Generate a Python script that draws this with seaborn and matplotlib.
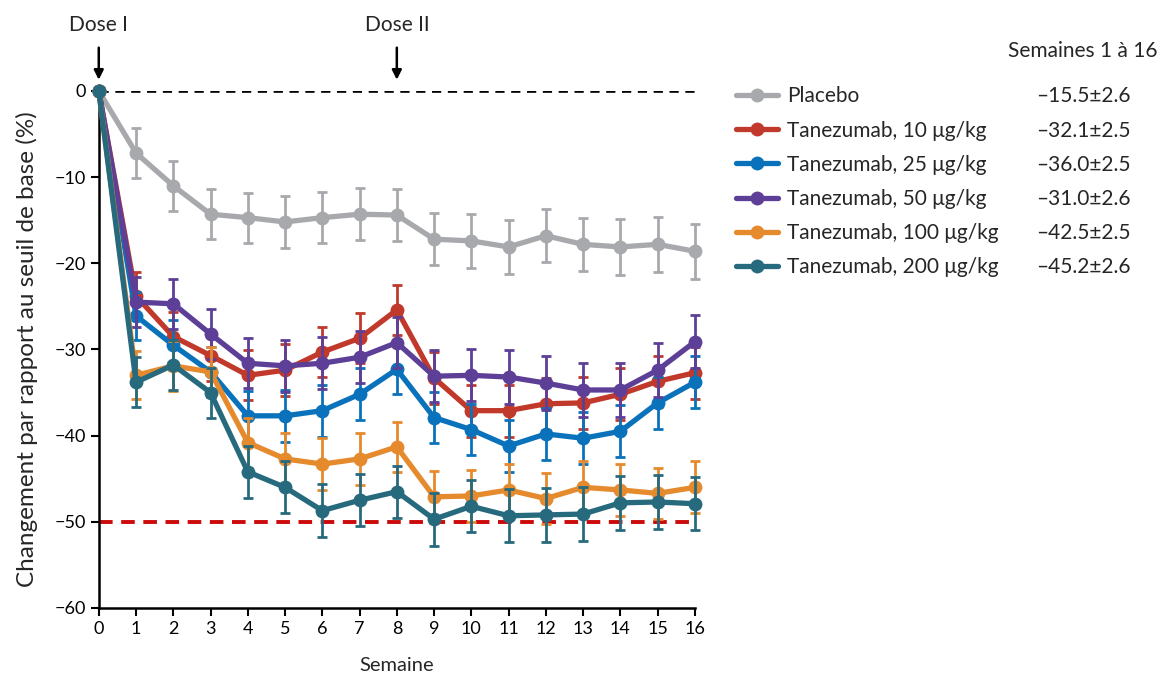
import numpy as np
import pandas as pd
import matplotlib
matplotlib.use("Agg")
import matplotlib.pyplot as plt
import seaborn as sns

weeks = list(range(0, 17))
series_names = ["Placebo", "Tanezumab, 10 μg/kg", "Tanezumab, 25 μg/kg",
                "Tanezumab, 50 μg/kg", "Tanezumab, 100 μg/kg", "Tanezumab, 200 μg/kg"]
placebo = [0, -7.2, -11.0, -14.3, -14.7, -15.2, -14.7, -14.3, -14.4, -17.2, -17.4, -18.1, -16.8, -17.8, -18.1, -17.8, -18.6]
dose10 = [0, -23.8, -28.5, -30.7, -33.0, -32.4, -30.3, -28.7, -25.4, -33.3, -37.1, -37.1, -36.3, -36.2, -35.2, -33.7, -32.7]
dose25 = [0, -26.1, -29.5, -32.6, -37.7, -37.7, -37.1, -35.2, -32.3, -37.9, -39.3, -41.2, -39.8, -40.3, -39.5, -36.2, -33.8]
dose50 = [0, -24.5, -24.7, -28.2, -31.6, -31.9, -31.6, -30.9, -29.2, -33.1, -33.0, -33.2, -33.9, -34.7, -34.7, -32.4, -29.1]
dose100 = [0, -33.0, -31.9, -32.6, -40.8, -42.7, -43.3, -42.7, -41.3, -47.1, -47.0, -46.3, -47.3, -46.0, -46.3, -46.7, -46.0]
dose200 = [0, -33.8, -31.8, -35.0, -44.2, -46.0, -48.7, -47.5, -46.5, -49.7, -48.2, -49.3, -49.2, -49.1, -47.8, -47.7, -47.9]
err_placebo = [0, 2.9, 2.9, 2.9, 2.9, 3.0, 3.0, 3.0, 3.0, 3.0, 3.1, 3.1, 3.1, 3.1, 3.2, 3.2, 3.2]
err_10 = [0, 2.8, 2.9, 2.9, 2.9, 3.0, 2.9, 2.9, 2.9, 3.0, 3.0, 3.0, 3.0, 3.0, 3.0, 3.0, 3.0]
err_25 = [0, 2.8, 2.9, 2.9, 2.9, 3.0, 3.0, 3.0, 2.9, 3.0, 3.0, 3.0, 3.0, 3.0, 3.0, 3.0, 3.0]
err_50 = [0, 2.9, 2.9, 2.9, 2.9, 3.0, 3.0, 3.0, 3.0, 3.0, 3.0, 3.1, 3.1, 3.1, 3.1, 3.1, 3.1]
err_100 = [0, 2.8, 2.9, 2.9, 2.9, 3.0, 3.0, 3.0, 2.9, 3.0, 3.0, 3.0, 3.0, 3.0, 3.0, 3.0, 3.0]
err_200 = [0, 2.9, 2.9, 2.9, 3.0, 3.0, 3.1, 3.0, 3.0, 3.1, 3.0, 3.1, 3.1, 3.1, 3.1, 3.1, 3.1]
overall = ["–15.5±2.6", "–32.1±2.5", "–36.0±2.5", "–31.0±2.6", "–42.5±2.5", "–45.2±2.6"]
colors = ["#a7a9ac", "#c0392b", "#0a72bb", "#5d3f97", "#e68a2e", "#276a7d"]

values = [placebo, dose10, dose25, dose50, dose100, dose200]
errs = [err_placebo, err_10, err_25, err_50, err_100, err_200]

rows = []
for name, vals in zip(series_names, values):
    for w, v in zip(weeks, vals):
        rows.append({"Semaine": w, "val": v, "Groupe": name})
df = pd.DataFrame(rows)

sns.set_theme(style="ticks")
plt.rcParams['font.family'] = ['Lato', 'DejaVu Sans']

fig = plt.figure(figsize=(11.62, 6.79), dpi=100)
ax = fig.add_axes([0.085, 0.1046, 0.513, 0.7614])

# reference lines
ax.axhline(0, color="black", ls=(0, (3.5, 2.5)), lw=1.9, zorder=1)
ax.axhline(-50, color="#cc0a0a", ls=(0, (3.5, 2.2)), lw=2.8, zorder=1)

for i, (name, vals, e) in enumerate(zip(series_names, values, errs)):
    ax.errorbar(weeks, vals, yerr=e, fmt="none", ecolor=colors[i], elinewidth=2,
                capsize=3.5, capthick=2, zorder=2 + i * 2, clip_on=False)
    sub = df[df["Groupe"] == name]
    sns.lineplot(data=sub, x="Semaine", y="val", color=colors[i], lw=3.8,
                 marker="o", markersize=10, markeredgewidth=0, ax=ax,
                 label=name, zorder=3 + i * 2, clip_on=False)

ax.set_xlim(0, 16)
ax.set_ylim(-60, 0)
ax.set_xticks(weeks)
ax.set_yticks([0, -10, -20, -30, -40, -50, -60])
ax.tick_params(axis="both", direction="out", length=6, width=1.5, labelsize=13, colors="black")
for s in ["top", "right"]:
    ax.spines[s].set_visible(False)
for s in ["left", "bottom"]:
    ax.spines[s].set_linewidth(1.8)
    ax.spines[s].set_color("black")
ax.set_xlabel("Semaine", fontsize=14.5, labelpad=14)
ax.set_ylabel("Changement par rapport au seuil de base (%)", fontsize=17.5, labelpad=12)

# dose arrows
for xpos, txt in [(0, "Dose I"), (8, "Dose II")]:
    ax.annotate(txt, xy=(xpos, 1.3), xytext=(xpos, 7.7), ha="center", va="center",
                fontsize=15, annotation_clip=False,
                arrowprops=dict(arrowstyle="-|>", color="black", lw=1.8,
                                shrinkA=7, shrinkB=0, mutation_scale=14))

leg = ax.legend(loc="upper left", bbox_to_anchor=(1.055, 1.025), frameon=False,
                fontsize=15, handlelength=2.0, handletextpad=0.45, labelspacing=0.68,
                borderaxespad=0)

fig.text(0.996, 0.925, "Semaines 1 à 16", ha="right", va="center", fontsize=15)

fig.canvas.draw()
inv = fig.transFigure.inverted()
for t, val in zip(leg.get_texts(), overall):
    bb = t.get_window_extent()
    yc = inv.transform((0, (bb.y0 + bb.y1) / 2))[1]
    fig.text(0.973, yc, val, ha="right", va="center", fontsize=15)

fig.savefig("out.png", dpi=100)
